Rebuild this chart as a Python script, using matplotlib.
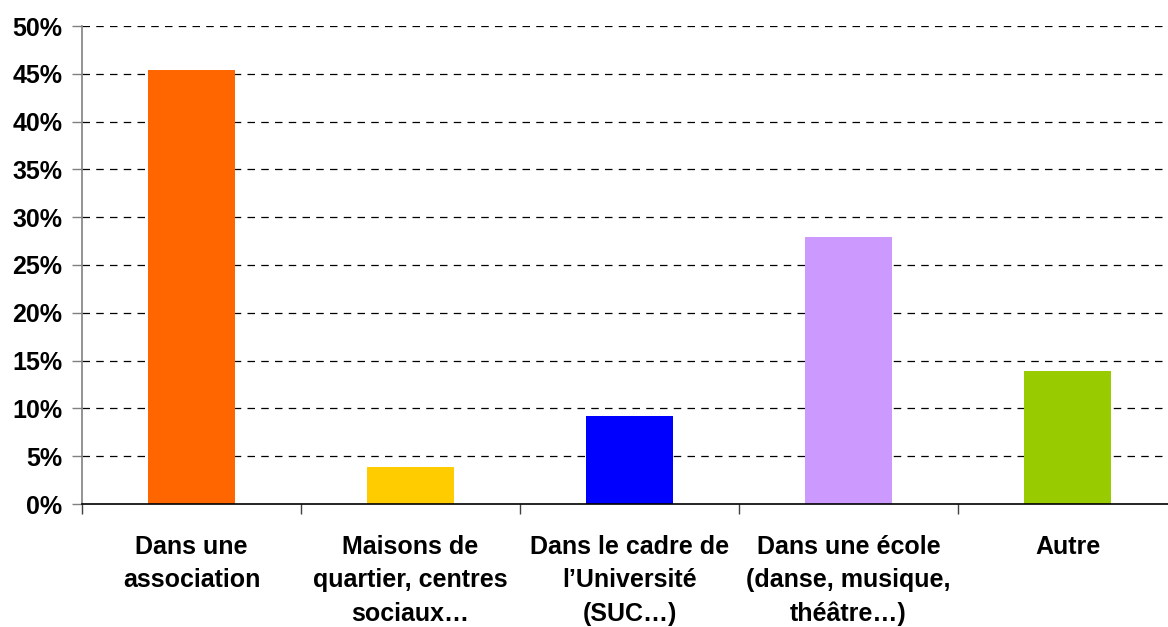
import matplotlib
matplotlib.use("Agg")
import matplotlib.pyplot as plt
import numpy as np

categories = ["Dans une\nassociation",
              "Maisons de\nquartier, centres\nsociaux…",
              "Dans le cadre de\nl’Université\n(SUC…)",
              "Dans une école\n(danse, musique,\nthéâtre…)",
              "Autre"]
values = [45.4, 3.85, 9.2, 27.9, 13.9]
colors = ["#FF6600", "#FFCC00", "#0000FF", "#CC99FF", "#99CC00"]
yticks = [0, 5, 10, 15, 20, 25, 30, 35, 40, 45, 50]

plt.rcParams['font.family'] = ['Liberation Sans', 'DejaVu Sans']
fig = plt.figure(figsize=(11.68, 6.27), dpi=100)
ax = fig.add_axes([82/1168, 1-504/627, 1095/1168, (504-26)/627])

x = np.arange(len(categories))
ax.bar(x, values, width=0.4, color=colors, zorder=3)
ax.set_xlim(-0.5, len(categories) - 0.5)
ax.set_ylim(0, 50)
ax.set_yticks(yticks)
ax.set_yticklabels([f"{v}%" for v in yticks], fontsize=18, fontweight='bold')
for v in yticks[1:]:
    ax.axhline(v, color='black', linestyle=(0, (6, 5)), linewidth=0.9, zorder=1)

ax.set_xticks(x)
ax.set_xticklabels(categories, fontsize=18, fontweight='bold', linespacing=1.5)
ax.tick_params(axis='x', which='major', length=0, pad=22)
ax.set_xticks(np.arange(len(categories) + 1) - 0.5, minor=True)
ax.tick_params(axis='x', which='minor', length=7, width=1, color='#404040')
ax.tick_params(axis='y', length=7, width=1, color='#808080', pad=7)

for s in ['top', 'right']:
    ax.spines[s].set_visible(False)
ax.spines['left'].set_color('#808080')
ax.spines['left'].set_linewidth(1.2)
ax.spines['bottom'].set_color('black')
ax.spines['bottom'].set_linewidth(1.2)
ax.spines['bottom'].set_zorder(4)

fig.savefig("out.png", dpi=100)
